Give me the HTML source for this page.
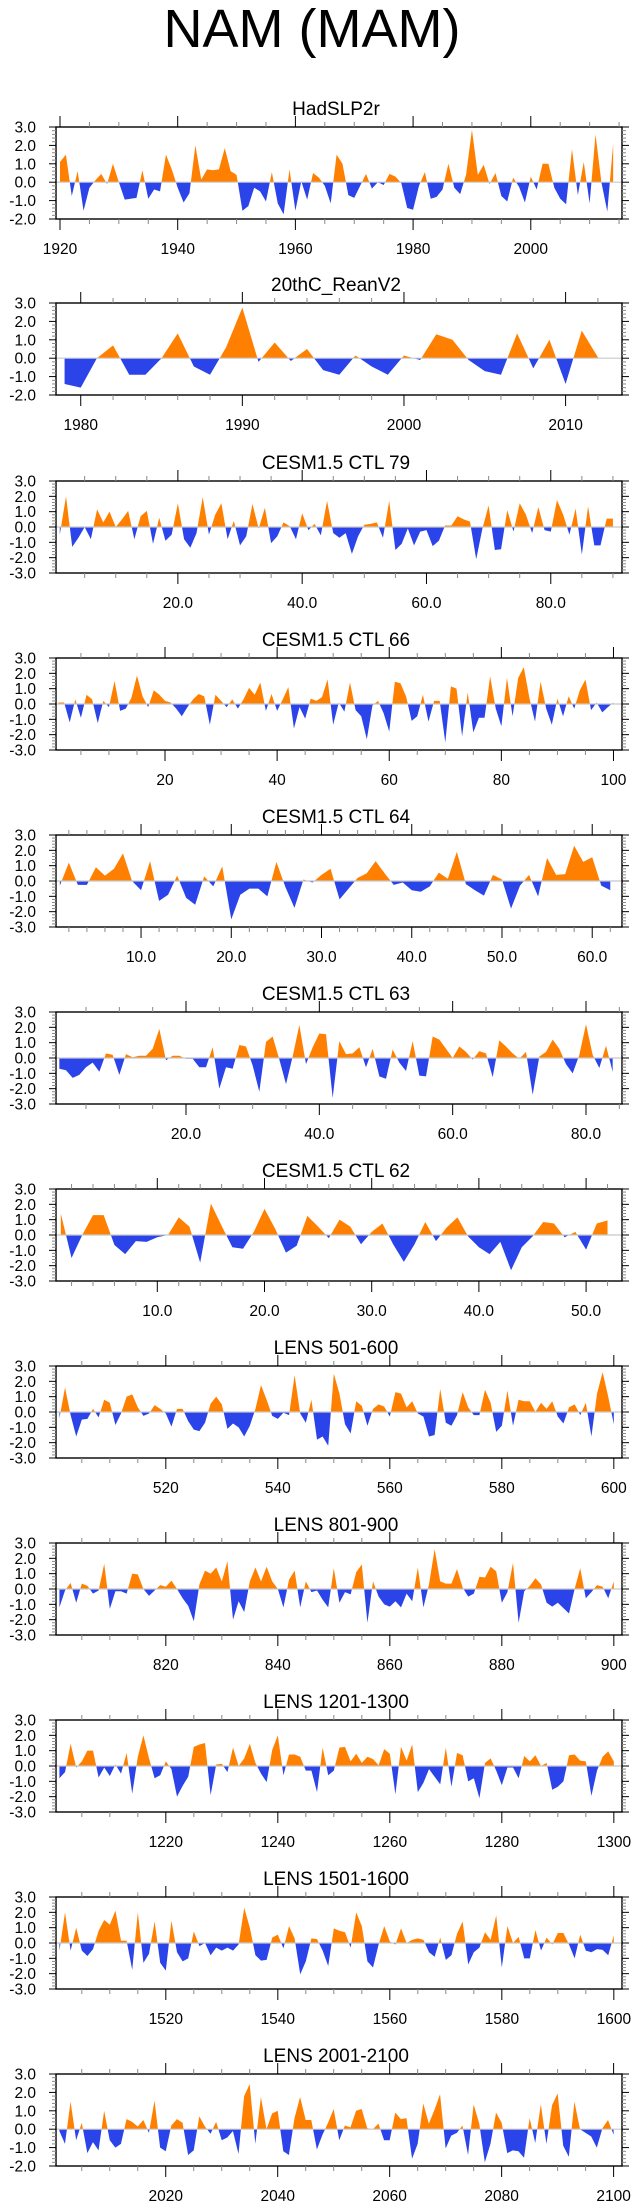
<!DOCTYPE html>
<html><head><meta charset="utf-8"><style>
html,body{margin:0;padding:0;background:#fff;}
svg{display:block;font-family:"Liberation Sans",Arial,sans-serif;}
</style></head><body>
<svg id="chart" width="635" height="2208" viewBox="0 0 635 2208" xmlns="http://www.w3.org/2000/svg">
<text x="312" y="47" font-size="54" text-anchor="middle" fill="#000">NAM (MAM)</text>
</svg>
<script>
const hadslpStart = 1920;
const hadslpValues = [1.1,1.5,-0.75,0.6,-1.55,-0.3,0.1,0.45,-0.1,1.0,0,-0.95,-0.9,-0.85,0.65,-0.9,-0.4,-0.5,1.5,0.7,-0.3,-1.1,-0.6,2.0,0.15,0.7,0.65,0.7,1.85,0.6,0.4,-1.55,-1.3,-0.3,-0.5,-1.05,0.55,-1.15,-1.75,0.7,-1.55,0.05,-0.95,0.5,0.25,-0.2,-1.15,1.5,1.0,-0.7,-0.85,-0.2,0.45,-0.35,0,-0.15,0.45,0.3,-0.05,-1.4,-1.5,-0.2,0.55,-0.9,-0.8,-0.4,1.0,-0.3,-0.65,0.4,2.85,0.4,0.95,-0.1,0.5,-0.75,-1.05,0.25,-0.25,-1.1,0.3,-0.4,1.0,1.0,-0.3,-0.9,-1.2,1.8,-0.7,1.1,-1.15,2.6,0,-1.6,2.1];
const reanStart = 1979;
const reanValues = [-1.4,-1.6,0,0.7,-0.9,-0.9,0,1.35,-0.45,-0.9,0.6,2.75,-0.2,0.85,-0.15,0.5,-0.65,-0.9,0.15,-0.45,-0.9,0.15,-0.1,1.3,1.0,-0.1,-0.7,-0.9,1.35,-0.55,1.0,-1.4,1.5,0.05];
const ctl79Values = [-0.5,2.0,-1.3,-0.7,0,-0.8,1.15,0.3,1.0,0,0.5,1.05,-0.8,0.7,1.05,-1.1,0.6,-0.9,-0.5,1.55,-0.8,-1.35,-0.4,1.95,-0.5,0.8,1.55,-0.8,0.4,-1.2,-0.6,1.5,-0.1,1.25,-1.05,-0.6,0.3,0.05,-0.8,0.9,-0.2,0.2,-0.55,1.7,-0.4,-0.7,-0.4,-1.75,-0.6,0.15,0.2,0.3,-0.7,1.7,-1.5,-1.1,-0.1,-1.2,-0.3,-0.2,-1.25,-0.9,0.1,0.1,0.7,0.5,0.35,-2.1,-0.1,1.4,-1.5,-1.45,1.1,-0.3,1.55,0.8,-0.4,1.3,-0.2,-0.3,1.75,0.8,-0.5,1.2,-1.8,1.35,-1.2,-1.2,0.55,0.55];
const ctl66Values = [0.1,0.1,-1.2,0.3,-0.9,0.6,0.3,-1.25,0.2,-0.2,1.5,-0.45,-0.3,0.4,1.85,0.5,-0.2,0.9,0.6,0.2,0.1,-0.3,-0.8,-0.2,0.3,0.65,0.5,-1.35,0.6,0.2,-0.2,0.3,-0.3,0.3,1.05,0.6,1.4,-0.45,0.65,-0.45,0.3,1.1,-1.6,-0.2,-0.95,0.35,0.2,0.45,1.6,-1.35,0.1,-0.5,1.4,-0.4,-0.8,-2.3,-0.1,0.2,-0.6,-1.8,1.45,1.35,0.5,-1.1,-0.8,0.6,-1.15,0.2,0.2,-2.5,1.15,1.0,-2.1,0.75,-1.85,-0.9,-0.9,1.8,-0.3,-1.45,1.7,-0.8,1.7,2.4,0.4,-1.15,1.45,-0.3,-1.35,0.35,-0.8,0.5,-0.3,0.9,1.6,-0.4,0.1,-0.55,-0.2,0.1];
const ctl64Values = [-0.3,1.2,-0.25,-0.25,0.9,0.35,0.8,1.8,0,-0.6,1.3,-1.3,-0.9,0.35,-1.1,-1.55,0.3,-0.35,0.95,-2.5,-0.9,-0.5,-0.5,-1.0,1.25,-0.4,-1.75,0.1,-0.1,0.4,0.8,-1.2,-0.5,0.2,0.5,1.3,0.5,-0.25,-0.1,-0.6,-0.7,-0.35,0.55,0.15,1.9,-0.2,-0.6,-0.95,0.4,0.1,-1.8,-0.3,0.4,-1.0,1.5,0.4,0.45,2.3,1.25,1.55,-0.3,-0.6];
const ctl63Values = [-0.7,-0.8,-1.3,-1.1,-0.6,-0.3,-0.9,0.3,0.2,-1.1,0.25,0.05,0.15,0.15,0.6,1.9,-0.15,0.15,0.15,-0.05,-0.05,-0.6,-0.6,0.7,-2.0,-0.6,-0.7,0.85,0.75,-0.5,-2.2,1.05,1.4,-0.1,-1.7,0.1,2.15,-0.4,0.7,1.6,1.55,-2.6,1.1,0.25,0.3,0.7,-0.6,0.6,-1.2,-1.35,0.55,-0.3,-0.85,1.1,-1.15,-1.2,1.4,1.2,0.6,0,0.75,0.4,-0.1,0.45,0.3,-1.25,1.15,0.75,0.3,-0.05,0.4,-2.4,0.1,0.4,1.2,0.6,-0.4,-1.0,0.2,2.2,0.2,-0.65,0.8,-0.9];
const ctl62Values = [1.4,-1.5,0,1.3,1.3,-0.65,-1.25,-0.4,-0.45,-0.15,0,1.15,0.55,-1.8,2.05,0.6,-0.8,-0.9,0.2,1.7,0.4,-1.15,-0.7,1.25,0.55,-0.2,1.0,0.55,-0.6,0.2,0.75,-0.6,-1.75,-0.6,0.85,-0.4,0.5,1.15,-0.1,-0.8,-1.25,-0.45,-2.3,-0.8,-0.1,0.85,0.75,-0.15,0.2,-0.95,0.75,0.95];
const lens501Values = [-0.4,1.6,-0.2,-1.6,-0.5,-0.45,0.2,-0.35,0.8,0.6,-0.85,-0.1,1.0,1.15,0.3,-0.25,-0.1,0.45,0.2,-0.1,-0.95,0.2,0.2,-0.6,-1.15,-1.25,-0.7,0.55,1.0,0.5,-1.1,-0.75,-1.0,-1.6,-0.9,0.2,1.75,0.8,-0.25,-0.45,-0.05,-0.2,2.4,-0.1,-0.7,0.8,-1.8,-1.6,-2.2,2.5,1.2,-0.8,-1.4,0.7,0.4,-0.9,0.2,0.5,0.35,-0.3,1.3,1.2,0.3,0.7,-0.1,-0.3,-1.6,-1.5,1.5,-0.7,-0.9,-0.2,1.3,0.3,-0.2,-0.2,1.45,0.6,-1.3,-0.9,1.4,-0.9,0.8,0.7,0.7,0,0.6,0.2,0.7,-0.3,-0.75,0.3,0.5,-0.2,0.6,-1.6,1.2,2.6,1.0,-0.8];
const lens801Values = [-1.2,-0.1,0.4,-0.9,0.35,0.2,-0.3,-0.1,1.65,-1.3,-0.15,-0.15,-0.3,1.0,0.95,0,-0.45,-0.1,0.25,0.15,0.55,0,-0.6,-1.1,-2.1,0.3,1.2,1.0,1.4,0.5,1.8,-2.0,-0.8,-1.5,0.5,1.4,0.5,1.45,0.5,0,-1.2,0.6,1.2,-1.2,0.5,-0.2,-0.1,-0.7,-1.2,1.35,-0.9,-0.2,-0.35,1.1,1.6,-2.2,0.5,-0.5,-1.0,-1.15,-0.8,-1.2,-0.3,-0.8,1.4,-1.2,0.3,2.6,0.5,0.35,0.35,1.3,0.1,-0.5,-0.3,0.8,0.75,1.45,1.15,-0.9,-0.2,1.7,-2.2,-0.15,0.2,0.7,0.3,-0.9,-1.15,-0.9,-1.25,-1.6,0,1.35,-0.6,-0.2,0.25,0.15,-0.6,0.5];
const lens1201Values = [-0.8,-0.4,1.45,-0.1,0.3,1.0,1.0,-0.75,-0.1,-0.65,0.1,-0.5,0.85,-1.8,0.6,2.0,0.5,-0.8,-0.6,0.3,-0.2,-2.0,-1.3,-0.7,1.25,1.4,1.5,-1.9,0.1,0.15,-0.4,1.2,0,0.5,1.45,0.2,-0.5,-1.05,1.05,2.0,-0.6,0.75,0.75,0.6,-0.3,-0.3,-1.7,1.2,-0.6,-0.3,1.2,1.25,0.3,0.8,0.2,0.6,0.45,0.05,1.1,0.8,-1.85,1.25,0.35,1.4,-1.7,-1.1,-0.2,-0.7,-1.2,1.2,-1.35,0.85,0.7,-1.0,-0.8,-2.1,0.2,0.5,-0.3,-1.25,-0.1,-0.1,-0.8,0.65,0.3,0.7,0,0.2,-1.55,-1.35,-1.0,0.7,0.75,0.35,0.3,-1.95,-0.3,0.6,0.95,0.3];
const lens1501Values = [-0.5,2.0,-0.5,1.0,-0.5,-0.85,-0.4,0.8,1.5,1.2,2.1,0.15,0.15,-1.75,2.0,-1.3,-0.7,1.4,-1.3,-1.8,1.45,-0.6,-1.2,-1.0,0.75,-0.2,0,-0.8,-0.3,-0.5,-0.3,-0.5,-0.1,2.3,1.0,-0.8,-1.15,-1.1,0.35,0.55,-0.35,1.1,0.3,-2.05,-1.2,0.3,0.25,-0.5,-1.5,0.95,0.8,0.7,-0.3,2.0,1.1,-1.2,-1.6,-0.1,1.1,0.1,-0.1,0.95,0,0.2,0.3,0.2,-0.6,-0.9,0.35,-1.1,-0.8,0.6,1.4,-1.4,-0.6,-0.3,0.7,0.2,1.8,-1.6,1.1,0,0.4,-1.0,-1.0,0.85,-0.5,0.35,-0.1,0.65,0.65,-0.1,-1.0,0.55,-0.5,-0.6,-0.4,-0.45,-0.8,0.5];
const lens2001Values = [-0.1,-0.8,1.5,-0.6,0.35,-1.3,-0.7,-1.15,1.0,-0.6,-1.0,-0.8,0.55,0.4,0.15,0.5,-0.2,1.55,-1.0,-1.2,0.2,0.55,0.35,-1.4,-1.15,0.7,0.15,-0.25,0.4,-0.6,-0.45,-0.1,-1.35,1.8,2.45,-0.8,1.75,0,0.85,1.0,-1.2,-1.4,0.6,1.75,0.5,0.5,-1.1,-0.3,0.35,1.1,-0.6,0.2,0.1,1.0,1.1,0.05,0,0.3,-0.6,-0.6,0.9,0.55,0.6,-1.6,-0.8,1.4,0.3,1.05,1.9,-1.05,-0.35,-0.2,0.2,-1.4,1.35,0.3,-1.8,-0.8,0.9,0.35,-1.3,-1.15,-1.2,-1.55,0.6,-0.75,1.35,-0.8,1.3,1.95,-0.9,-1.5,1.5,0,-0.2,-0.4,-1.0,0.05,0.5,-0.3];
const yTickLabels5 = ["3.0","2.0","1.0","0.0","-1.0","-2.0"];
const yTickLabels6 = ["3.0","2.0","1.0","0.0","-1.0","-2.0","-3.0"];

const panels = [
 {name:"hadslp2r",title:"HadSLP2r",top:127,vals:hadslpValues,start:hadslpStart,xmin:1919.32,xmax:2015.5,ymin:-2,major:20,minor:5,firstMajor:1920,dec:0},
 {name:"20thc-reanv2",title:"20thC_ReanV2",top:303,vals:reanValues,start:reanStart,xmin:1978.47,xmax:2013.49,ymin:-2,major:10,minor:2,firstMajor:1980,dec:0},
 {name:"cesm-ctl-79",title:"CESM1.5 CTL 79",top:481,vals:ctl79Values,start:1,xmin:0.39,xmax:91.46,ymin:-3,major:20,minor:5,firstMajor:20,dec:1},
 {name:"cesm-ctl-66",title:"CESM1.5 CTL 66",top:658,vals:ctl66Values,start:1,xmin:0.556,xmax:101.52,ymin:-3,major:20,minor:5,firstMajor:20,dec:0},
 {name:"cesm-ctl-64",title:"CESM1.5 CTL 64",top:835,vals:ctl64Values,start:1,xmin:0.576,xmax:63.3,ymin:-3,major:10,minor:2,firstMajor:10,dec:1},
 {name:"cesm-ctl-63",title:"CESM1.5 CTL 63",top:1012,vals:ctl63Values,start:1,xmin:0.5,xmax:85.4,ymin:-3,major:20,minor:5,firstMajor:20,dec:1},
 {name:"cesm-ctl-62",title:"CESM1.5 CTL 62",top:1189,vals:ctl62Values,start:1,xmin:0.55,xmax:53.35,ymin:-3,major:10,minor:2,firstMajor:10,dec:1},
 {name:"lens-501-600",title:"LENS 501-600",top:1366,vals:lens501Values,start:501,xmin:500.39,xmax:601.46,ymin:-3,major:20,minor:5,firstMajor:520,dec:0},
 {name:"lens-801-900",title:"LENS 801-900",top:1543,vals:lens801Values,start:801,xmin:800.39,xmax:901.46,ymin:-3,major:20,minor:5,firstMajor:820,dec:0},
 {name:"lens-1201-1300",title:"LENS 1201-1300",top:1720,vals:lens1201Values,start:1201,xmin:1200.39,xmax:1301.46,ymin:-3,major:20,minor:5,firstMajor:1220,dec:0},
 {name:"lens-1501-1600",title:"LENS 1501-1600",top:1897,vals:lens1501Values,start:1501,xmin:1500.39,xmax:1601.46,ymin:-3,major:20,minor:5,firstMajor:1520,dec:0},
 {name:"lens-2001-2100",title:"LENS 2001-2100",top:2074,vals:lens2001Values,start:2001,xmin:2000.4,xmax:2101.5,ymin:-2,major:20,minor:5,firstMajor:2020,dec:0}
];

const NS="http://www.w3.org/2000/svg";
const svg=document.getElementById('chart');
const L=56,R=622,H=92;
function mk(tag,attrs,parent){const e=document.createElementNS(NS,tag);for(const k in attrs)e.setAttribute(k,attrs[k]);parent.appendChild(e);return e;}

panels.forEach((p,pi)=>{
  const g=mk('g',{},svg);
  
  
  const T=p.top,B=T+H,ymax=3,ymin=p.ymin;
  const xs=v=>L+(v-p.xmin)/(p.xmax-p.xmin)*(R-L);
  const ys=v=>T+(ymax-v)/(ymax-ymin)*H;
  const z=ys(0);
  const t=mk('text',{x:(L+R)/2-3,y:T-12,'font-size':19,'text-anchor':'middle',fill:'#000'},g);
  t.textContent=p.title;
  
  
  let d='M'+xs(p.start).toFixed(2)+','+z.toFixed(2);
  p.vals.forEach((v,i)=>{d+=' L'+xs(p.start+i).toFixed(2)+','+ys(v).toFixed(2);});
  d+=' L'+xs(p.start+p.vals.length-1).toFixed(2)+','+z.toFixed(2)+' Z';
  const cpA=mk('clipPath',{id:'ca'+pi},g);mk('rect',{x:L,y:T,width:R-L,height:z-T},cpA);
  const cpB=mk('clipPath',{id:'cb'+pi},g);mk('rect',{x:L,y:z,width:R-L,height:B-z},cpB);
  const pa=mk('path',{d:d,fill:'#ff8000','clip-path':'url(#ca'+pi+')'},g);
  
  
  const pb=mk('path',{d:d,fill:'#2b44ea','clip-path':'url(#cb'+pi+')'},g);
  
  
  const zl=mk('line',{x1:L,x2:R,y1:z,y2:z,stroke:'#c8c8c8','stroke-width':1.2},g);
  
  
  const fr=mk('rect',{x:L,y:T,width:R-L,height:H,fill:'none',stroke:'#000','stroke-width':1.4},g);
  
  
  for(let v=ymin;v<=ymax+1e-6;v+=0.2){
    const vv=Math.round(v*10)/10,y=ys(vv),maj=Math.abs(vv-Math.round(vv))<1e-6;
    const len=maj?7:4,col=maj?'#000':'#888';
    mk('line',{x1:L-len,x2:L,y1:y,y2:y,stroke:col,'stroke-width':1},g);
    mk('line',{x1:R,x2:R+len,y1:y,y2:y,stroke:col,'stroke-width':1},g);
  }
  const labs=ymin===-2?yTickLabels5:yTickLabels6;
  labs.forEach(s=>{
    const yl=mk('text',{x:36,y:ys(parseFloat(s))+5.5,'font-size':15.5,'text-anchor':'end',fill:'#000'},g);
    yl.textContent=s;
    
    
  });
  const startMinor=Math.ceil(p.xmin/p.minor)*p.minor;
  for(let v=startMinor;v<=p.xmax;v+=p.minor){
    const x=xs(v),maj=((v-p.firstMajor)%p.major+p.major)%p.major===0;
    const len=maj?11:5,col=maj?'#000':'#888';
    mk('line',{x1:x,x2:x,y1:T-len,y2:T,stroke:col,'stroke-width':1},g);
    mk('line',{x1:x,x2:x,y1:B,y2:B+len,stroke:col,'stroke-width':1},g);
    if(maj){
      const xl=mk('text',{x:x,y:B+35,'font-size':15.5,'text-anchor':'middle',fill:'#000'},g);
      xl.textContent=p.dec?v.toFixed(1):String(v);
      
      
    }
  }
});
</script>
</body></html>
